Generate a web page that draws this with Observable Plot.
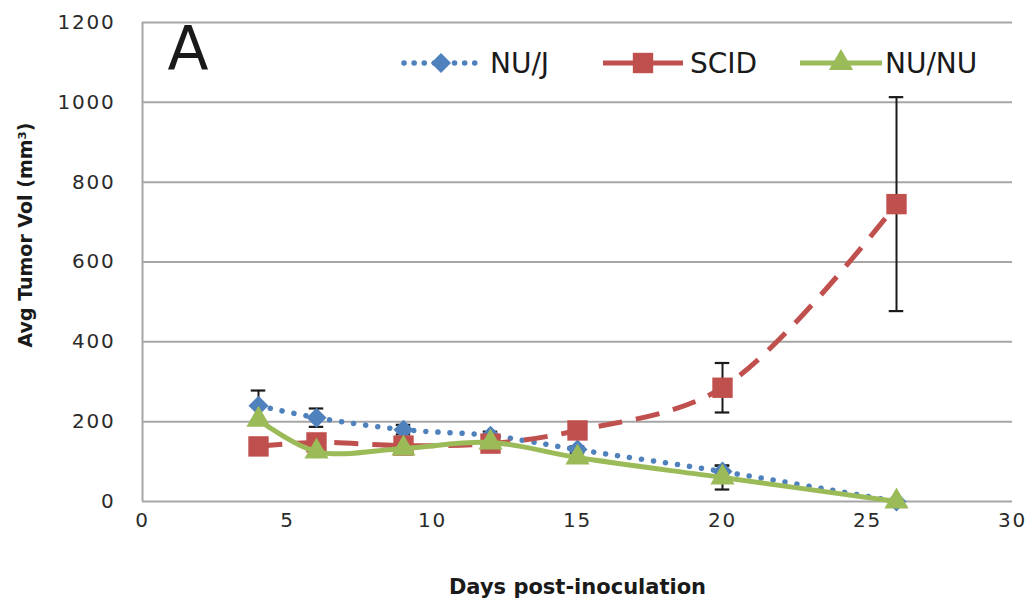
<!DOCTYPE html>
<html>
<head>
<meta charset="utf-8">
<script src="https://cdn.jsdelivr.net/npm/d3@7"></script>
<script src="https://cdn.jsdelivr.net/npm/@observablehq/plot@0.6"></script>
<style>
  html, body { margin: 0; padding: 0; background: #fff; }
  #wrap { position: relative; width: 1034px; height: 605px; font-family: "DejaVu Sans", Verdana, sans-serif; }
  #wrap [aria-label$="tick label"] text { letter-spacing: 1.8px; }
  .lg-item { position: absolute; top: 47px; height: 32px; display: flex; align-items: center; font-size: 28px; color: #1a1a1a; white-space: nowrap; }
  .lg-item svg { display: block; }
</style>
</head>
<body>
<div id="wrap"></div>
<script>
const days = [4, 6, 9, 12, 15, 20, 26];
const seriesNames = ["NU/J", "SCID", "NU/NU"];
const nujVals  = [240, 210, 180, 165, 130, 75, 0];
const nujErr   = [38, 23, 12, 10, 8, 15, 0];
const scidVals = [138, 148, 140, 145, 178, 285, 745];
const scidErr  = [0, 0, 0, 0, 0, 62, 268];
const nunuVals = [205, 125, 133, 148, 110, 60, 0];
const nunuErr  = [0, 0, 0, 0, 0, 30, 0];
const xTicks = [0, 5, 10, 15, 20, 25, 30];
const yTicks = [0, 200, 400, 600, 800, 1000, 1200];

const colors = {"NU/J": "#4F81BD", "SCID": "#C0504D", "NU/NU": "#9BBB59"};
const symbols = {"NU/J": "diamond2", "SCID": "square", "NU/NU": "triangle"};
const radii = {"NU/J": 9, "SCID": 11.5, "NU/NU": 9};
const dashes = {"NU/J": "0.1 12", "SCID": "24 14", "NU/NU": null};
const widths = {"NU/J": 5.5, "SCID": 5, "NU/NU": 5};

const valsBy = {"NU/J": nujVals, "SCID": scidVals, "NU/NU": nunuVals};
const errBy = {"NU/J": nujErr, "SCID": scidErr, "NU/NU": nunuErr};

const seriesData = seriesNames.map(name => days.map((d, i) => ({
  name, day: d, v: valsBy[name][i], e: errBy[name][i]
})));
const errData = seriesData.flat().filter(d => d.e > 0);

const marks = [
  Plot.gridY(yTicks, {stroke: "#a6a6a6", strokeWidth: 2, strokeOpacity: 1}),
  Plot.ruleX([0], {y1: 0, y2: 1200, stroke: "#a6a6a6", strokeWidth: 2}),
  Plot.axisX(xTicks, {tickSize: 0, tickPadding: 11, label: null, tickFormat: d => String(d), fontSize: 20, fill: "#2a2a2a"}),
  Plot.axisY(yTicks, {tickSize: 0, tickPadding: 27, label: null, tickFormat: d => String(d), fontSize: 20, fill: "#2a2a2a"}),
  Plot.text(["Days post-inoculation"], {frameAnchor: "bottom", dy: 92, fontSize: 21, fontWeight: "bold", fill: "#1a1a1a"}),
  Plot.text(["Avg Tumor Vol (mm³)"], {frameAnchor: "left", textAnchor: "middle", rotate: -90, dx: -117, dy: -27, fontSize: 19, fontWeight: "bold", fill: "#1a1a1a"}),
  Plot.text(["A"], {frameAnchor: "top-left", dx: 25, dy: 4, fontSize: 60, fill: "#1a1a1a"}),
  // error bars
  Plot.ruleX(errData, {x: "day", y1: d => d.v - d.e, y2: d => d.v + d.e, stroke: "#1a1a1a", strokeWidth: 2}),
  Plot.ruleY(errData, {y: d => d.v + d.e, x1: d => d.day - 0.25, x2: d => d.day + 0.25, stroke: "#1a1a1a", strokeWidth: 2.2}),
  Plot.ruleY(errData, {y: d => d.v - d.e, x1: d => d.day - 0.25, x2: d => d.day + 0.25, stroke: "#1a1a1a", strokeWidth: 2.2})
];

seriesData.forEach(data => {
  const name = data[0].name;
  marks.push(Plot.line(data, {
    x: "day", y: "v", stroke: colors[name], strokeWidth: widths[name],
    strokeDasharray: dashes[name], strokeLinecap: name === "NU/J" ? "round" : "butt",
    curve: "catmull-rom"
  }));
  marks.push(Plot.dot(data, {
    x: "day", y: "v", symbol: () => symbols[name], r: radii[name], fill: colors[name], stroke: "none"
  }));
});

const chart = Plot.plot({
  width: 1034, height: 605,
  marginLeft: 142, marginRight: 22, marginTop: 22, marginBottom: 104,
  style: {fontFamily: "\"DejaVu Sans\", Verdana, sans-serif", background: "#fff"},
  x: {domain: [0, 30]},
  y: {domain: [0, 1200]},
  symbol: {type: "identity"},
  marks
});

const wrap = document.getElementById("wrap");
wrap.appendChild(chart);

// legend overlay
const lgLeft = {"NU/J": 401, "SCID": 603, "NU/NU": 800};
const swatchW = {"NU/J": 80, "SCID": 80, "NU/NU": 82};
const textGap = {"NU/J": 9, "SCID": 7, "NU/NU": 3};
const symFn = {"NU/J": d3.symbolDiamond2, "SCID": d3.symbolSquare, "NU/NU": d3.symbolTriangle};
seriesNames.forEach(name => {
  const item = document.createElement("div");
  item.className = "lg-item";
  item.style.left = lgLeft[name] + "px";
  const w = swatchW[name];
  const s = d3.create("svg").attr("width", w).attr("height", 32);
  const isDot = name === "NU/J";
  s.append("line").attr("x1", isDot ? 3 : 0).attr("x2", w - (isDot ? 3 : 0))
    .attr("y1", 16).attr("y2", 16)
    .attr("stroke", colors[name]).attr("stroke-width", widths[name])
    .attr("stroke-linecap", isDot ? "round" : "butt")
    .attr("stroke-dasharray", isDot ? "0.1 10" : null);
  s.append("path").attr("transform", `translate(${w / 2},16)`)
    .attr("d", d3.symbol(symFn[name], Math.PI * radii[name] * radii[name])())
    .attr("fill", colors[name]);
  item.appendChild(s.node());
  const t = document.createElement("span");
  t.textContent = name;
  t.style.marginLeft = textGap[name] + "px";
  item.appendChild(t);
  wrap.appendChild(item);
});
</script>
</body>
</html>
